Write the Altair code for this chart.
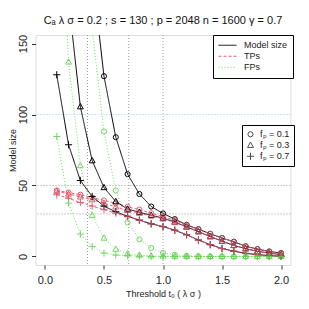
import altair as alt
import pandas as pd

thresholds = [0.1, 0.2, 0.3, 0.4, 0.5, 0.6, 0.7, 0.8, 0.9, 1.0,
              1.1, 1.2, 1.3, 1.4, 1.5, 1.6, 1.7, 1.8, 1.9, 2.0]
fp_labels = ["fₚ = 0.1", "fₚ = 0.3", "fₚ = 0.7"]
kinds = ["Model size", "TPs", "FPs"]

# fp = 0.1 (circles)
model_01 = [None, None, None, 200, 127, 84, 58, 44, 35.2, 30.3, 26.3, 22.3, 19.2, 16, 13, 10.4, 7.2, 5.2, 3.5, 2.4]
tp_01 = [46.5, 45, 43.5, 41.5, 39.5, 37.5, 35, 33, 30.5, 28, 25.5, 22, 19, 16, 13, 10.2, 7, 5.2, 3.5, 2.4]
fp_01 = [None, None, None, 160, 88, 46.5, 24, 12, 6, 2.5, 1.2, 0.5, 0.2, 0, 0, 0, 0, 0, 0, 0]
# fp = 0.3 (triangles)
model_03 = [None, 181, 105.5, 67.5, 48.6, 38.7, 33.4, 31.2, 29, 27, 24.3, 20.8, 17.5, 14, 10.8, 7.8, 5.5, 3.6, 2.4, 1.3]
tp_03 = [46, 44, 42, 40, 37.5, 35, 32.5, 30.5, 28.5, 26.5, 24, 20.8, 17.5, 14, 10.8, 7.8, 5.5, 3.6, 2.4, 1.3]
fp_03 = [320, 137, 64, 29, 13, 5.2, 2, 1, 0.5, 0.3, 0, 0, 0, 0, 0, 0, 0, 0, 0, 0]
# fp = 0.7 (plus)
model_07 = [128, 78.7, 53.5, 42.3, 35.4, 31.5, 28.3, 25.6, 23, 21.1, 18.5, 15.3, 11.6, 8.3, 5.6, 3.7, 2.2, 1.3, 0.6, 0.2]
tp_07 = [43.5, 41, 38, 35.5, 33, 30.5, 28, 25.5, 23, 21, 18.5, 15.3, 11.6, 8.3, 5.6, 3.7, 2.2, 1.3, 0.6, 0.2]
fp_07 = [84.5, 37.6, 15.8, 7, 2.4, 1, 0.5, 0.2, 0, 0, 0, 0, 0, 0, 0, 0, 0, 0, 0, 0]

x_ticks = [0.0, 0.5, 1.0, 1.5, 2.0]
y_ticks = [0, 50, 100, 150]
vlines_grey = [0.36, 0.71, 1.0]
hlines_grey = [30, 50]
hlines_blue = [100]

series = {
    (fp_labels[0], "Model size"): model_01, (fp_labels[0], "TPs"): tp_01, (fp_labels[0], "FPs"): fp_01,
    (fp_labels[1], "Model size"): model_03, (fp_labels[1], "TPs"): tp_03, (fp_labels[1], "FPs"): fp_03,
    (fp_labels[2], "Model size"): model_07, (fp_labels[2], "TPs"): tp_07, (fp_labels[2], "FPs"): fp_07,
}
rows = []
for (fpl, kind), vals in series.items():
    for t, v in zip(thresholds, vals):
        if v is not None:
            rows.append({"thr": t, "val": v, "kind": kind, "fp": fpl})
df = pd.DataFrame(rows)

FONT = "Liberation Sans"
xs = alt.Scale(domain=[-0.08, 2.08], nice=False, zero=False)
ys = alt.Scale(domain=[-6, 156], nice=False, zero=False)
X = alt.X("thr:Q", scale=xs, axis=alt.Axis(values=x_ticks, format=".1f", title="Threshold t₀ ( λ σ )",
          grid=False, domain=False, tickSize=4, tickColor="#333", labelFontSize=11, labelFont=FONT,
          labelPadding=5, titleFontSize=9, titleFont=FONT, titleFontWeight="normal", titlePadding=4,
          labelColor="#222", titleColor="#222"))
Y = alt.Y("val:Q", scale=ys, axis=alt.Axis(values=y_ticks, title="Model size", grid=False, domain=False,
          tickSize=4, tickColor="#333", labelFontSize=11, labelFont=FONT, labelAngle=270, labelPadding=3,
          labelAlign="center", labelBaseline="bottom",
          titleFontSize=9, titleFont=FONT, titleFontWeight="normal", titleAngle=270,
          titleX=-23, titleY=115, titleAlign="center", titleBaseline="middle",
          labelColor="#222", titleColor="#222"))

color_scale = alt.Scale(domain=kinds, range=["black", "#DF536B", "#61D04F"])
dash_scale = alt.Scale(domain=kinds, range=[[1, 0], [3, 2], [1, 2]])
leg1 = alt.Legend(title=None, orient="none", legendX=177.5, legendY=0, symbolType="stroke", symbolSize=324,
                  symbolStrokeWidth=1, clipHeight=10.5, rowPadding=0, padding=5, labelFontSize=9, labelFont=FONT,
                  labelOffset=7, fillColor="white", strokeColor="black", cornerRadius=0, labelColor="#222")

gv = pd.DataFrame({"x": vlines_grey})
gh = pd.DataFrame({"y": hlines_grey})
bh = pd.DataFrame({"y": hlines_blue})
grid_v = alt.Chart(gv).mark_rule(color="#9a9a9a", strokeDash=[1, 2], strokeWidth=1).encode(x=alt.X("x:Q", scale=xs))
grid_h = alt.Chart(gh).mark_rule(color="#9a9a9a", strokeDash=[1, 2], strokeWidth=1).encode(y=alt.Y("y:Q", scale=ys))
grid_b = alt.Chart(bh).mark_rule(color="#9cc9e8", strokeDash=[1, 2], strokeWidth=1).encode(y=alt.Y("y:Q", scale=ys))

base = alt.Chart(df)
lines = base.mark_line(strokeWidth=1, clip=True).encode(
    x=X, y=Y,
    color=alt.Color("kind:N", scale=color_scale, legend=leg1),
    strokeDash=alt.StrokeDash("kind:N", scale=dash_scale, legend=leg1),
    opacity=alt.Opacity("kind:N", scale=alt.Scale(domain=kinds, range=[1, 0.85, 0.5]), legend=None),
    detail="fp:N",
)
plus_path = "M-1.4,0L1.4,0M0,-1.4L0,1.4"
tri_path = "M0,-1.25L1.15,0.85L-1.15,0.85Z"
points = base.mark_point(filled=False, strokeWidth=1, clip=True, size=26).encode(
    x=X, y=Y,
    color=alt.Color("kind:N", scale=color_scale, legend=None),
    opacity=alt.Opacity("kind:N", scale=alt.Scale(domain=kinds, range=[1, 0.85, 0.65]), legend=None),
    shape=alt.Shape("fp:N", scale=alt.Scale(domain=fp_labels, range=["circle", tri_path, plus_path]),
                    legend=alt.Legend(title=None, orient="none", legendX=206.5, legendY=90, symbolSize=26,
                                      symbolStrokeColor="black", symbolFillColor="transparent", symbolStrokeWidth=1,
                                      clipHeight=10.5, rowPadding=0, padding=4, labelFontSize=9, labelFont=FONT,
                                      labelOffset=5, fillColor="white", strokeColor="black", cornerRadius=0,
                                      labelColor="#222")),
)

chart = alt.layer(grid_v, grid_h, grid_b, lines, points).properties(
    width=255, height=230,
    title=alt.TitleParams("Cₐ λ σ = 0.2 ;  s = 130 ; p = 2048 n = 1600 γ = 0.7", fontSize=11, font=FONT,
                          fontWeight="normal", anchor="middle", offset=8, color="#111"),
    padding={"left": 27.5, "top": 27, "right": 10, "bottom": 36},
    autosize=alt.AutoSizeParams(type="none"),
).configure_view(stroke="#333", strokeWidth=1).configure(background="white")

chart.save("out.html", embed_options={"renderer": "svg", "actions": False})
